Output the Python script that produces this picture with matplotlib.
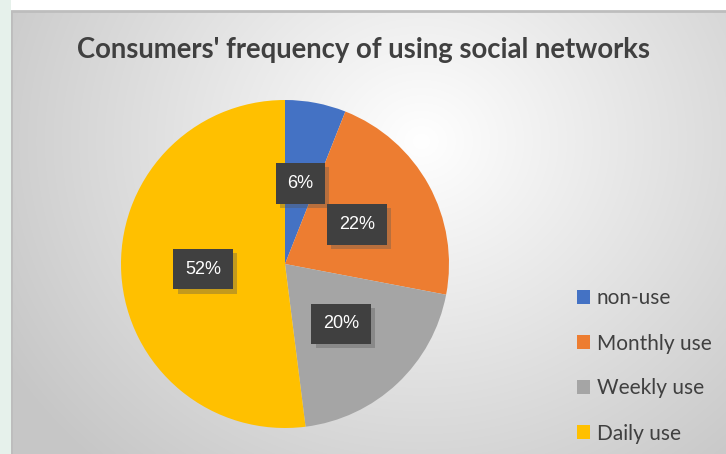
import matplotlib.pyplot as plt
from matplotlib.patches import Rectangle
import matplotlib.patheffects as pe
import numpy as np

# data
labels = ['non-use', 'Monthly use', 'Weekly use', 'Daily use']
shares = [6, 22, 20, 52]
colors = ['#4472c4', '#ed7d31', '#a5a5a5', '#ffc000']
title = "Consumers' frequency of using social networks"

W, H = 726, 454
fig = plt.figure(figsize=(W / 100, H / 100), dpi=100)
fig.patch.set_facecolor('white')

# left strip (page behind the chart)
fig.patches.append(Rectangle((0, 0), 11 / W, 1, transform=fig.transFigure,
                             facecolor='#e6f1eb', edgecolor='none', zorder=0))

# chart area with radial gradient
bg = fig.add_axes([11 / W, 0, (W - 11) / W, (H - 11) / H])
yy, xx = np.mgrid[0:443, 0:715]
d = np.sqrt(((xx - 410) / 1.0) ** 2 + ((yy - 130) / 0.9) ** 2)
t = np.clip(d / 480, 0, 1)
shade = 1.0 - 0.22 * t
bg.imshow(np.dstack([shade] * 3), aspect='auto', extent=[0, 1, 0, 1], origin='upper')
bg.set_xlim(0, 1)
bg.set_ylim(0, 1)
bg.axis('off')
bg.plot([0, 0, 1], [0, 1, 1], color='#bdbdbd', lw=2, transform=bg.transAxes, clip_on=False)

fig.text(364 / W, 1 - 50 / H, title, ha='center', va='center',
         fontsize=19.8, fontweight='bold', color='#404040', family='Lato')

# pie
cx, cy, r = 285, 264, 164
ax = fig.add_axes([(cx - r) / W, 1 - (cy + r) / H, 2 * r / W, 2 * r / H])
wedges, texts, autotexts = ax.pie(shares, colors=colors, startangle=90, counterclock=False,
                                  autopct='%d%%', pctdistance=0.5,
                                  wedgeprops=dict(linewidth=0))
for at in autotexts:
    at.set_color('white')
    at.set_fontsize(13)
    at.set_family('Liberation Sans')
    at.set_bbox(dict(boxstyle='square,pad=0.65', facecolor='#404040', edgecolor='none'))
    at.get_bbox_patch().set_path_effects(
        [pe.SimplePatchShadow(offset=(3, -3), shadow_rgbFace='#555555', alpha=0.35), pe.Normal()])
ax.set_aspect('auto')
ax.set_xlim(-1, 1)
ax.set_ylim(-1, 1)
ax.axis('off')

leg = fig.legend(wedges, labels, loc='center left', bbox_to_anchor=(558 / W, 1 - 366 / H),
                 frameon=False, prop={'family': 'Lato', 'size': 15},
                 labelcolor='#404040', handlelength=0.65, handleheight=0.65,
                 handletextpad=0.3, labelspacing=1.2)

plt.savefig('out.png', dpi=100)
